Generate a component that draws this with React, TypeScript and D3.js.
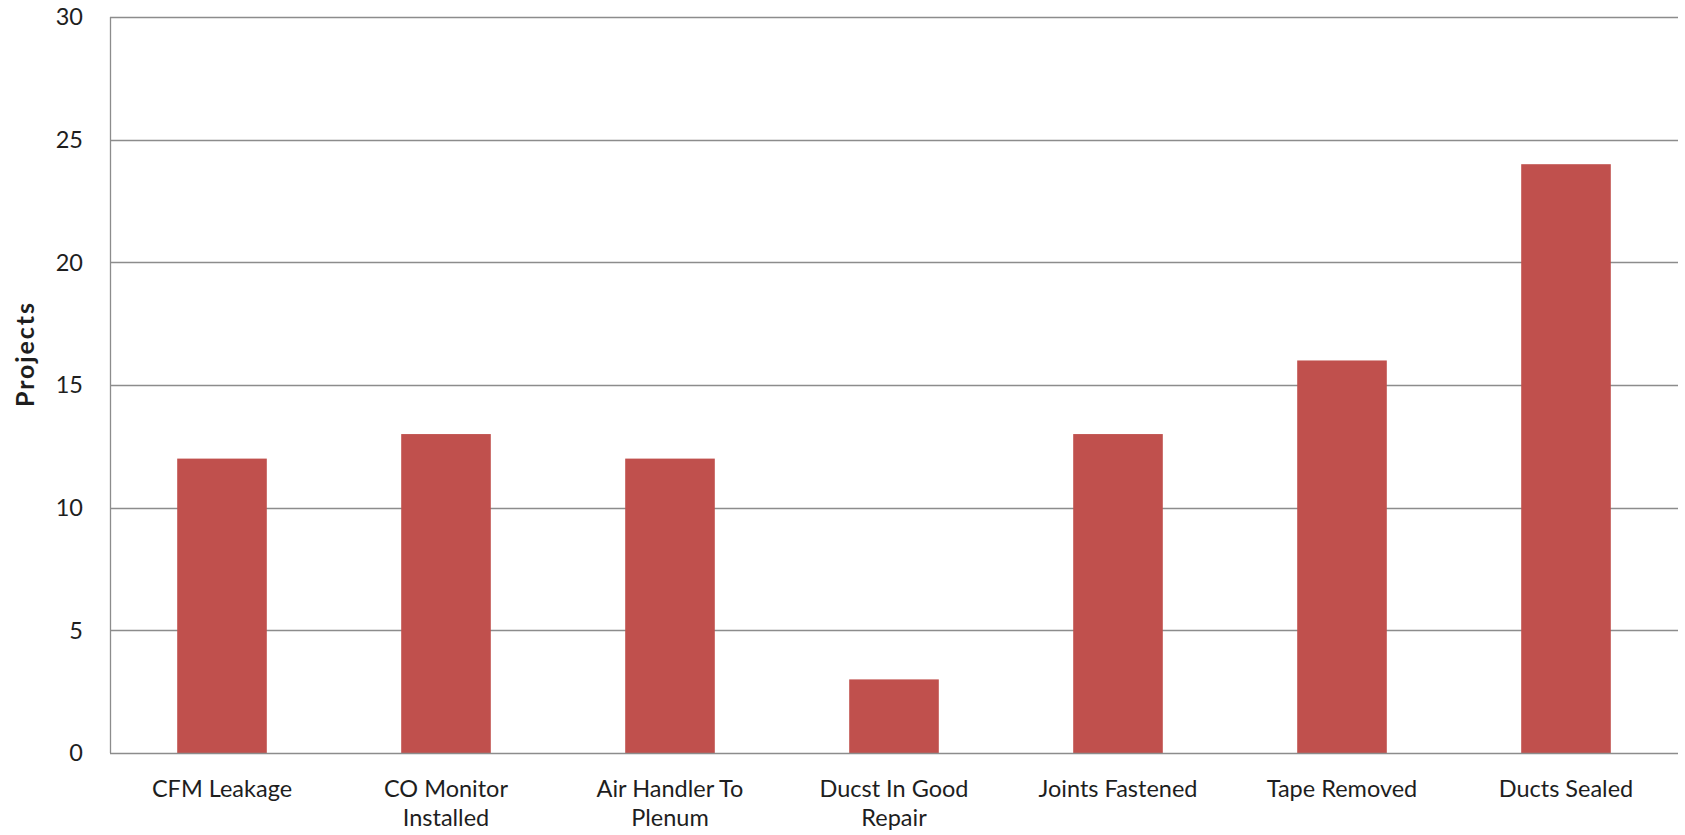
import React from "react";
import * as d3 from "d3";

// Inspection items and how many projects each applied to
const categories = [
  "CFM Leakage",
  "CO Monitor\nInstalled",
  "Air Handler To\nPlenum",
  "Ducst In Good\nRepair",
  "Joints Fastened",
  "Tape Removed",
  "Ducts Sealed",
];
const projectCounts = [12, 13, 12, 3, 13, 16, 24];
const yTicks = [0, 5, 10, 15, 20, 25, 30];
const yAxisTitle = "Projects";

const W = 1685;
const H = 835;
const margin = { left: 110, right: 7, top: 17, bottom: 82 };
const FONT = "Lato, 'Open Sans', sans-serif";
const BAR = "#C0504D";
const GRID = "#8c8c8c";
const TEXT = "#1e1e1e";

export default function App() {
  const x = d3
    .scaleBand<string>()
    .domain(categories)
    .range([margin.left, W - margin.right])
    .paddingInner(0.6)
    .paddingOuter(0.3);
  const y = d3
    .scaleLinear()
    .domain([0, 30])
    .range([H - margin.bottom, margin.top]);

  const plotLeft = margin.left;
  const plotRight = W - margin.right;
  const plotBottom = y(0);

  return (
    <svg
      width={W}
      height={H}
      style={{ position: "absolute", left: 0, top: 0, display: "block", background: "#fff" }}
      fontFamily={FONT}
    >
      {/* horizontal gridlines */}
      {yTicks
        .filter((t) => t !== 0)
        .map((t) => (
          <line
            key={"g" + t}
            x1={plotLeft}
            x2={plotRight}
            y1={Math.round(y(t)) + 0.5}
            y2={Math.round(y(t)) + 0.5}
            stroke={GRID}
            strokeWidth={1.3}
          />
        ))}

      {/* bars */}
      {categories.map((c, i) => (
        <rect
          key={c}
          x={x(c)}
          y={y(projectCounts[i])}
          width={x.bandwidth()}
          height={plotBottom - y(projectCounts[i])}
          fill={BAR}
        />
      ))}

      {/* axes */}
      <line
        x1={plotLeft + 0.5}
        x2={plotLeft + 0.5}
        y1={margin.top}
        y2={plotBottom}
        stroke={GRID}
        strokeWidth={1.3}
      />
      <line
        x1={plotLeft}
        x2={plotRight}
        y1={Math.round(plotBottom) + 0.5}
        y2={Math.round(plotBottom) + 0.5}
        stroke={GRID}
        strokeWidth={1.3}
      />

      {/* y tick labels */}
      {yTicks.map((t) => (
        <text
          key={"t" + t}
          x={83}
          y={y(t)}
          dy="0.36em"
          textAnchor="end"
          fontSize={23.5}
          fill={TEXT}
        >
          {t}
        </text>
      ))}

      {/* category labels */}
      {categories.map((c) => {
        const cx = (x(c) as number) + x.bandwidth() / 2;
        return (
          <text key={"l" + c} x={cx} y={796.5} textAnchor="middle" fontSize={23.5} fill={TEXT}>
            {c.split("\n").map((line, j) => (
              <tspan key={j} x={cx} dy={j === 0 ? 0 : 29.5}>
                {line}
              </tspan>
            ))}
          </text>
        );
      })}

      {/* y axis title */}
      <text
        transform={`translate(34, 355) rotate(-90)`}
        textAnchor="middle"
        fontSize={25}
        fontWeight="bold"
        textLength={104}
        lengthAdjust="spacing"
        fill={TEXT}
      >
        {yAxisTitle}
      </text>
    </svg>
  );
}
